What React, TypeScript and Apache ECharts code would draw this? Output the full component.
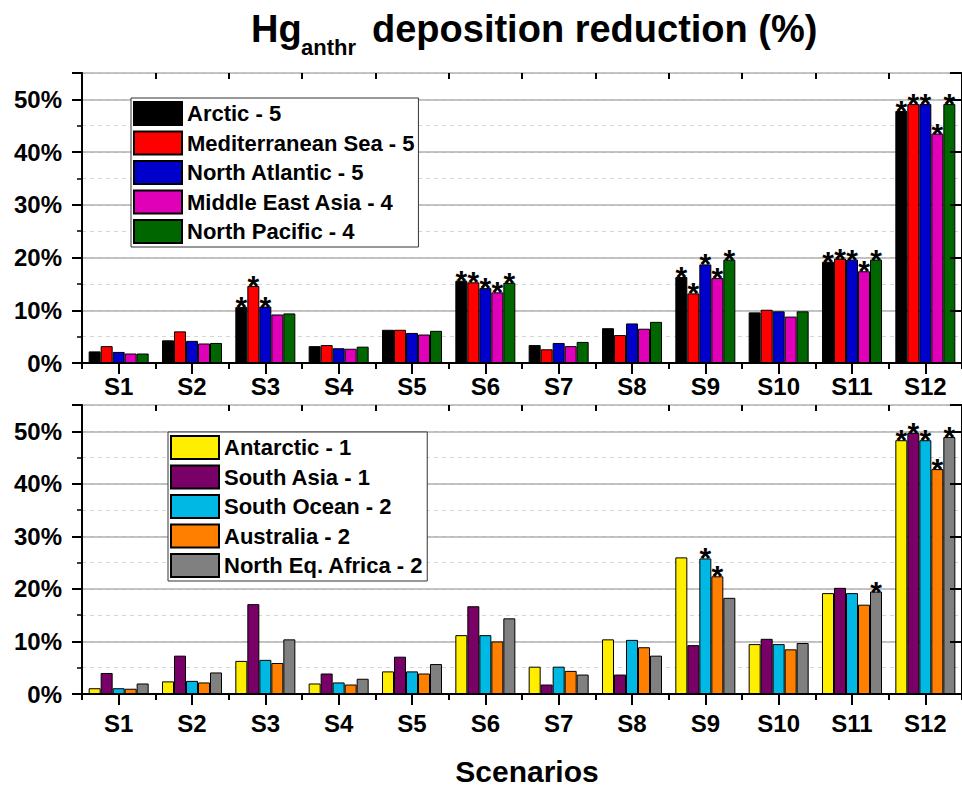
import React, { useEffect, useRef } from 'react';
import * as echarts from 'echarts';

const FONT = 'Liberation Sans, Arial, Helvetica, sans-serif';

const categories = ['S1', 'S2', 'S3', 'S4', 'S5', 'S6', 'S7', 'S8', 'S9', 'S10', 'S11', 'S12'];

// Top panel (percent reduction)
const topNames = ['Arctic - 5', 'Mediterranean Sea - 5', 'North Atlantic - 5', 'Middle East Asia - 4', 'North Pacific - 4'];
const topColors = ['#000000', '#ff0000', '#0000cc', '#e000b8', '#006600'];
const arctic = [2.2, 4.3, 10.6, 3.2, 6.3, 15.6, 3.4, 6.6, 16.3, 9.6, 19.2, 47.8];
const mediterranean = [3.2, 6.0, 14.6, 3.4, 6.3, 15.3, 2.6, 5.3, 13.2, 10.1, 19.8, 49.1];
const northAtlantic = [2.1, 4.2, 10.7, 2.8, 5.7, 14.2, 3.8, 7.5, 18.7, 9.8, 19.6, 49.1];
const middleEastAsia = [1.8, 3.7, 9.2, 2.7, 5.4, 13.4, 3.2, 6.5, 16.1, 8.8, 17.4, 43.5];
const northPacific = [1.8, 3.8, 9.4, 3.1, 6.1, 15.2, 4.0, 7.8, 19.6, 9.8, 19.6, 49.1];
const arcticStars = ['S3', 'S6', 'S9', 'S11', 'S12'];
const mediterraneanStars = ['S3', 'S6', 'S9', 'S11', 'S12'];
const northAtlanticStars = ['S3', 'S6', 'S9', 'S11', 'S12'];
const middleEastAsiaStars = ['S6', 'S9', 'S11', 'S12'];
const northPacificStars = ['S6', 'S9', 'S11', 'S12'];

// Bottom panel
const bottomNames = ['Antarctic - 1', 'South Asia - 1', 'South Ocean - 2', 'Australia - 2', 'North Eq. Africa - 2'];
const bottomColors = ['#ffee00', '#780066', '#00b8e4', '#ff8000', '#808080'];
const antarctic = [1.1, 2.4, 6.3, 2.0, 4.3, 11.2, 5.2, 10.4, 26.0, 9.5, 19.2, 48.3];
const southAsia = [4.0, 7.3, 17.1, 3.9, 7.1, 16.7, 1.8, 3.7, 9.3, 10.5, 20.2, 49.7];
const southOcean = [1.1, 2.5, 6.5, 2.2, 4.3, 11.2, 5.2, 10.3, 25.8, 9.5, 19.2, 48.3];
const australia = [1.0, 2.2, 5.9, 1.8, 3.9, 10.0, 4.4, 8.9, 22.4, 8.5, 17.0, 42.8];
const northEqAfrica = [2.0, 4.1, 10.4, 2.9, 5.7, 14.4, 3.7, 7.3, 18.3, 9.7, 19.5, 48.9];
const antarcticStars = ['S12'];
const southAsiaStars = ['S12'];
const southOceanStars = ['S9', 'S12'];
const australiaStars = ['S9', 'S12'];
const northEqAfricaStars = ['S11', 'S12'];

const yTicks = [0, 10, 20, 30, 40, 50];
const yMax = 55;

function buildSeries(name: string, color: string, values: number[], stars: string[], xIdx: number, yIdx: number) {
  return {
    type: 'bar',
    name,
    xAxisIndex: xIdx,
    yAxisIndex: yIdx,
    barWidth: 12,
    barGap: '0%',
    z: 2,
    itemStyle: { color, borderColor: '#000', borderWidth: 1 },
    label: {
      show: false,
      position: 'top',
      distance: 0,
      formatter: '*',
      fontSize: 30,
      fontWeight: 'bold',
      fontFamily: FONT,
      color: '#000',
      offset: [0, 14.5],
    },
    data: values.map((v, i) =>
      stars.includes(categories[i]) ? { value: v, label: { show: true } } : { value: v }
    ),
  };
}

function xAxesFor(gridIndex: number, labelMargin: number) {
  const base = {
    type: 'category',
    gridIndex,
    data: categories,
    boundaryGap: true,
    z: 3,
    splitLine: { show: false },
  };
  return [
    {
      ...base,
      position: 'bottom',
      axisLine: { show: true, lineStyle: { color: '#000', width: 2 } },
      axisTick: { show: true, alignWithLabel: true, length: 11, lineStyle: { color: '#000', width: 2 } },
      axisLabel: { show: true, fontSize: 24, fontWeight: 'bold', fontFamily: FONT, color: '#000', margin: labelMargin },
    },
    {
      ...base,
      position: 'bottom',
      axisLine: { show: false },
      axisTick: { show: true, alignWithLabel: false, length: 6, lineStyle: { color: '#000', width: 2 } },
      axisLabel: { show: false },
    },
    {
      ...base,
      position: 'top',
      axisLine: { show: true, lineStyle: { color: '#000', width: 2 } },
      axisTick: { show: true, inside: true, alignWithLabel: true, length: 11, lineStyle: { color: '#000', width: 2 } },
      axisLabel: { show: false },
    },
    {
      ...base,
      position: 'top',
      axisLine: { show: false },
      axisTick: { show: true, inside: true, alignWithLabel: false, length: 6, lineStyle: { color: '#000', width: 2 } },
      axisLabel: { show: false },
    },
  ];
}

function yAxesFor(gridIndex: number) {
  return [
    {
      type: 'value',
      gridIndex,
      position: 'left',
      min: 0,
      max: yMax,
      interval: 5,
      z: 0,
      axisLine: { show: false },
      axisTick: { show: true, length: 5, lineStyle: { color: '#000', width: 1.5 } },
      axisLabel: { show: false },
      splitLine: { show: true, lineStyle: { color: '#d6d6d6', width: 1, type: [4, 4] } },
    },
    {
      type: 'value',
      gridIndex,
      position: 'left',
      min: 0,
      max: yMax,
      interval: 10,
      z: 1,
      axisLine: { show: true, lineStyle: { color: '#000', width: 2 } },
      axisTick: { show: true, length: 10, lineStyle: { color: '#000', width: 2 } },
      axisLabel: {
        show: true,
        fontSize: 24,
        fontWeight: 'bold',
        fontFamily: FONT,
        color: '#000',
        margin: 20,
        formatter: (v: number) => (yTicks.includes(v) ? v + '%' : ''),
      },
      splitLine: { show: true, lineStyle: { color: '#b0b0b0', width: 1.5 } },
    },
    {
      type: 'value',
      gridIndex,
      position: 'right',
      min: 0,
      max: yMax,
      interval: 10,
      z: 3,
      axisLine: { show: true, lineStyle: { color: '#000', width: 2 } },
      axisTick: { show: true, inside: true, length: 12, lineStyle: { color: '#000', width: 2 } },
      axisLabel: { show: false },
      splitLine: { show: false },
    },
  ];
}

export default function App() {
  const ref = useRef<HTMLDivElement>(null);

  useEffect(() => {
    if (!ref.current) return;
    const chart = echarts.init(ref.current, undefined, { renderer: 'svg' });

    const topValues = [arctic, mediterranean, northAtlantic, middleEastAsia, northPacific];
    const topStars = [arcticStars, mediterraneanStars, northAtlanticStars, middleEastAsiaStars, northPacificStars];
    const botValues = [antarctic, southAsia, southOcean, australia, northEqAfrica];
    const botStars = [antarcticStars, southAsiaStars, southOceanStars, australiaStars, northEqAfricaStars];

    const series = [
      ...topNames.map((n, i) => buildSeries(n, topColors[i], topValues[i], topStars[i], 0, 1)),
      ...bottomNames.map((n, i) => buildSeries(n, bottomColors[i], botValues[i], botStars[i], 4, 4)),
    ];

    const legendBase = {
      orient: 'vertical',
      selectedMode: false,
      icon: 'rect',
      backgroundColor: '#fff',
      borderColor: '#333',
      borderWidth: 1,
      padding: [3, 4, 3, 2],
      itemWidth: 48,
      itemHeight: 23,
      itemGap: 4.5,
      z: 10,
      textStyle: { fontSize: 22, fontWeight: 'bold', fontFamily: FONT, color: '#000' },
    };

    chart.setOption({
      animation: false,
      backgroundColor: '#fff',
      textStyle: { fontFamily: FONT },
      grid: [
        { left: 82, top: 73, width: 889, height: 290, containLabel: false },
        { left: 82, top: 405, width: 889, height: 289, containLabel: false },
      ],
      xAxis: [...xAxesFor(0, 11), ...xAxesFor(1, 17)],
      yAxis: [...yAxesFor(0), ...yAxesFor(1)],
      legend: [
        { ...legendBase, left: 131, top: 98, data: topNames },
        { ...legendBase, left: 168, top: 432, data: bottomNames },
      ],
      graphic: [
        {
          type: 'text',
          x: 251,
          y: 29,
          style: { text: 'Hg', fontSize: 38, fontWeight: 'bold', fontFamily: FONT, fill: '#000', verticalAlign: 'middle', align: 'left' },
        },
        {
          type: 'text',
          x: 301,
          y: 47,
          style: { text: 'anthr', fontSize: 22, fontWeight: 'bold', fontFamily: FONT, fill: '#000', verticalAlign: 'middle', align: 'left' },
        },
        {
          type: 'text',
          x: 372,
          y: 29,
          style: { text: 'deposition reduction (%)', fontSize: 38, fontWeight: 'bold', fontFamily: FONT, fill: '#000', verticalAlign: 'middle', align: 'left' },
        },
        {
          type: 'text',
          x: 527,
          y: 771,
          style: { text: 'Scenarios', fontSize: 30, fontWeight: 'bold', fontFamily: FONT, fill: '#000', verticalAlign: 'middle', align: 'center' },
        },
      ],
      series,
    });

    return () => chart.dispose();
  }, []);

  return (
    <div
      ref={ref}
      style={{ position: 'fixed', left: 0, top: 0, width: 962, height: 788, background: '#fff' }}
    />
  );
}
